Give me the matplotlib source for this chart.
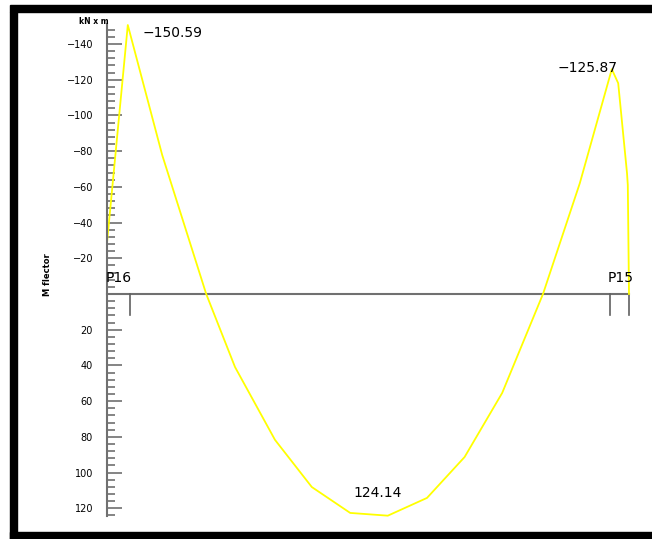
import matplotlib.pyplot as plt
from matplotlib.ticker import FixedLocator
from matplotlib.patches import Rectangle

# Diagrama de momento flector entre P16 y P15
x = [0.0, 0.26, 0.69, 1.24, 1.6, 2.1, 2.56, 3.04, 3.51, 4.0, 4.47, 4.94,
     5.45, 5.91, 6.31, 6.39, 6.5, 6.51, 6.525]
M = [-28.6, -150.59, -77.8, 0, 40.9, 81.7, 108.1, 122.6, 124.14, 114.2,
     91.3, 55.4, 0, -62, -125.87, -118, -67.7, -61, 0]

apoyos = ["P16", "P15"]
x_apoyos = [0.29, 6.29]
x_fin = 6.525

picos = [(0.26, -150.59), (6.31, -125.87), (3.51, 124.14)]

major = [-140, -120, -100, -80, -60, -40, -20, 20, 40, 60, 80, 100, 120]
minor = [v for v in range(-148, 125, 4) if v % 20 != 0]

fig = plt.figure(figsize=(6.52, 5.39), dpi=100)
ax = fig.add_axes([0, 0, 1, 1])
ax.set_xlim(-1.3375, 6.8125)
ax.set_ylim(137.2, -164.6)

# marco negro
for r in [(0.0153, 0.0, 0.0107, 0.978), (0.0153, 0.9777, 0.9847, 0.013),
          (0.0153, 0.0, 0.9847, 0.013)]:
    fig.patches.append(Rectangle(r[:2], r[2], r[3], transform=fig.transFigure,
                                 color="black", zorder=5))

for s in ["top", "right", "bottom"]:
    ax.spines[s].set_visible(False)
ax.spines["left"].set_position(("data", 0))
ax.spines["left"].set_bounds(-151, 124.5)
ax.spines["left"].set_color("#707070")
ax.spines["left"].set_linewidth(1.5)

ax.xaxis.set_visible(False)
ax.yaxis.set_major_locator(FixedLocator(major))
ax.yaxis.set_minor_locator(FixedLocator(minor))
ax.tick_params(axis="y", which="major", direction="in", length=11, width=1.2,
               color="#707070", pad=10, labelsize=7)
ax.tick_params(axis="y", which="minor", direction="in", length=6, width=1.2,
               color="#707070")

# eje de la viga y apoyos
ax.plot([0, x_fin], [0, 0], color="#707070", lw=1.5)
for xa in x_apoyos + [x_fin]:
    ax.plot([xa, xa], [0, 11.5], color="#606060", lw=1.2)
ax.text(0.15, -5, apoyos[0], fontsize=10, ha="center", va="bottom")
ax.text(6.42, -5, apoyos[1], fontsize=10, ha="center", va="bottom")

ax.plot(x, M, color="#ffff00", lw=1.3)

ax.text(0.44, picos[0][1] + 4.5, "\u2212150.59", fontsize=10, ha="left", va="center")
ax.text(6.01, picos[1][1] + 3.5, "\u2212125.87", fontsize=10, ha="center", va="bottom")
ax.text(3.38, picos[2][1] - 9, "124.14", fontsize=10, ha="center", va="bottom")

ax.text(-0.16, -152.5, "kN x m", fontsize=5.5, ha="center", va="center",
        fontweight="bold")
ax.text(-0.75, -10.6, "M flector", fontsize=6, rotation=90, ha="center",
        va="center", fontweight="bold")

fig.savefig("out.png", dpi=100)
